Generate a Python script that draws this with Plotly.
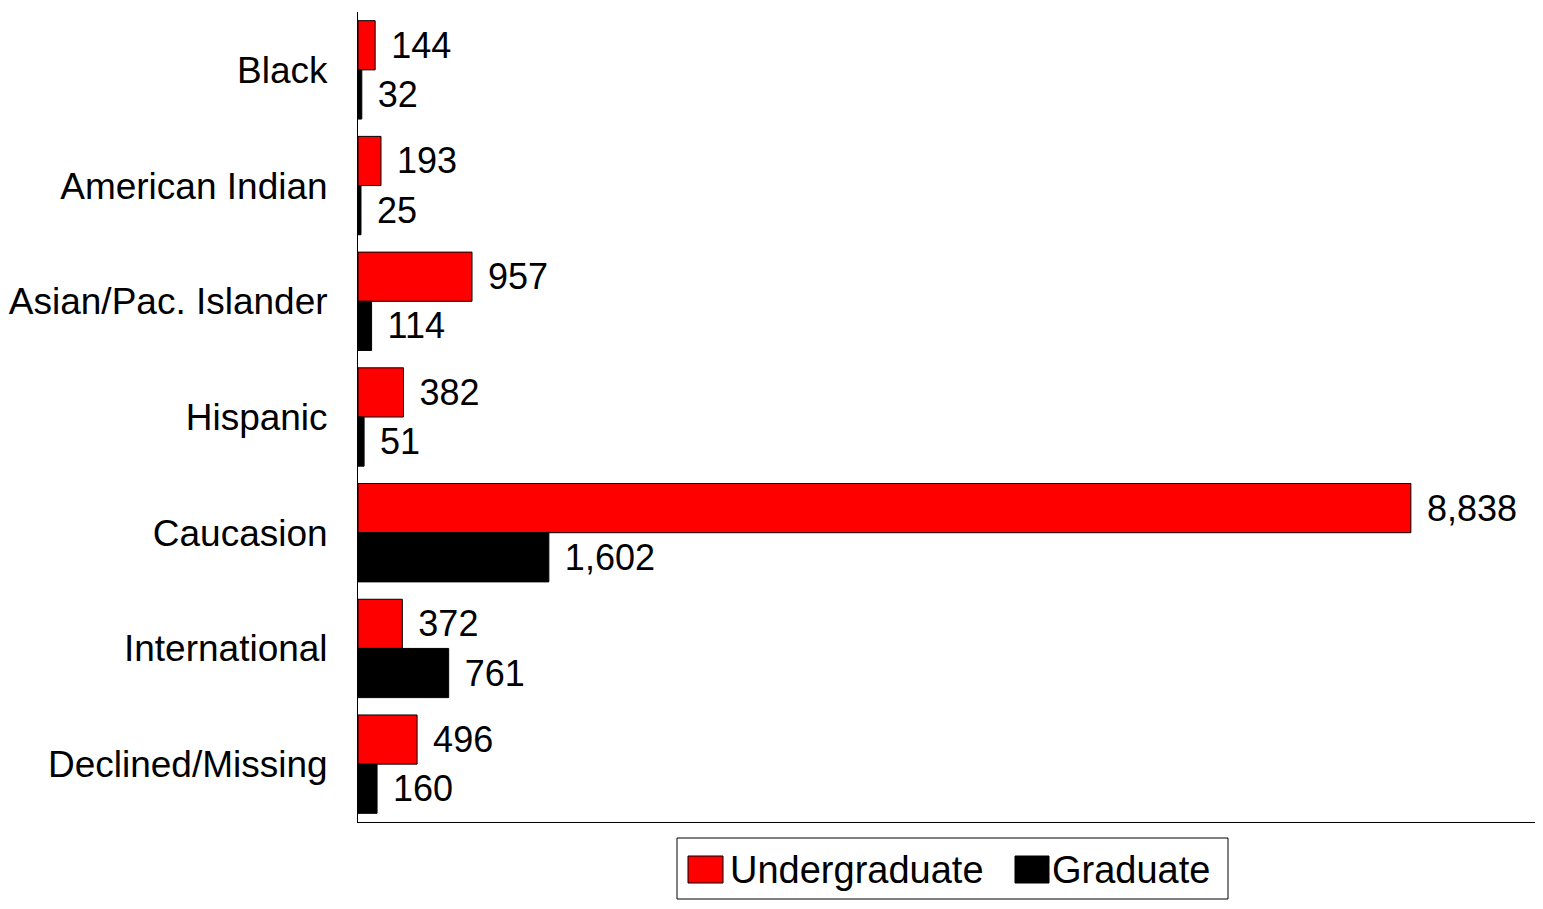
import plotly.graph_objects as go

FONT = "Liberation Sans, Arial, sans-serif"

categories = [
    "Black", "American Indian", "Asian/Pac. Islander", "Hispanic",
    "Caucasion", "International", "Declined/Missing",
]
undergraduate = [144, 193, 957, 382, 8838, 372, 496]
graduate = [32, 25, 114, 51, 1602, 761, 160]

# the page body keeps an 8px margin, so the figure is sized to fit inside it
OFF = 8
W, H = 1543 - 2 * OFF, 909 - 2 * OFF
M = {"l": 358 - OFF, "r": 0, "t": 12 - OFF, "b": H - (822 - OFF)}


def px(x):
    # page pixel -> paper fraction
    return (x - OFF - M["l"]) / (W - M["l"] - M["r"])


def py(y):
    return (H - M["b"] - (y - OFF)) / (H - M["t"] - M["b"])


fig = go.Figure()
fig.add_trace(go.Bar(
    name="Undergraduate",
    y=categories,
    x=undergraduate,
    orientation="h",
    marker_color="#ff0000",
    marker_line_color="#000000",
    marker_line_width=1,
    texttemplate="\u00a0\u200a%{x:,}",
    textposition="outside",
    textfont={"size": 36, "color": "black", "family": FONT},
    cliponaxis=False,
))
fig.add_trace(go.Bar(
    name="Graduate",
    y=categories,
    x=graduate,
    orientation="h",
    marker_color="#000000",
    marker_line_color="#000000",
    marker_line_width=1,
    texttemplate="\u00a0\u200a%{x:,}",
    textposition="outside",
    textfont={"size": 36, "color": "black", "family": FONT},
    cliponaxis=False,
))

# hand-drawn legend box to get the large swatches
shapes = [
    dict(type="rect", xref="paper", yref="paper",
         x0=px(677), x1=px(1228), y0=py(899), y1=py(838),
         line={"color": "black", "width": 1}, fillcolor="white"),
    dict(type="rect", xref="paper", yref="paper",
         x0=px(688), x1=px(723), y0=py(883), y1=py(856),
         line={"color": "black", "width": 1}, fillcolor="#ff0000"),
    dict(type="rect", xref="paper", yref="paper",
         x0=px(1015), x1=px(1049), y0=py(883), y1=py(856),
         line={"color": "black", "width": 1}, fillcolor="#000000"),
]
annotations = [
    dict(text="Undergraduate", xref="paper", yref="paper", x=px(728), y=py(870),
         xanchor="left", yanchor="middle", showarrow=False,
         font={"size": 38, "color": "black", "family": FONT}),
    dict(text="Graduate", xref="paper", yref="paper", x=px(1050), y=py(870),
         xanchor="left", yanchor="middle", showarrow=False,
         font={"size": 38, "color": "black", "family": FONT}),
]

fig.update_layout(
    width=W,
    height=H,
    margin=M,
    barmode="group",
    bargap=0.15,
    bargroupgap=0,
    showlegend=False,
    paper_bgcolor="white",
    plot_bgcolor="white",
    font={"family": FONT, "color": "black"},
    shapes=shapes,
    annotations=annotations,
)
fig.update_xaxes(
    range=[0, 9880],
    showticklabels=False,
    ticks="",
    showgrid=False,
    zeroline=False,
    showline=True,
    linecolor="black",
    linewidth=1,
)
fig.update_yaxes(
    autorange="reversed",
    showgrid=False,
    ticks="",
    ticklabelstandoff=22,
    tickfont={"size": 37, "color": "black", "family": FONT},
    showline=True,
    linecolor="black",
    linewidth=1,
)

fig.write_html("out.html")
